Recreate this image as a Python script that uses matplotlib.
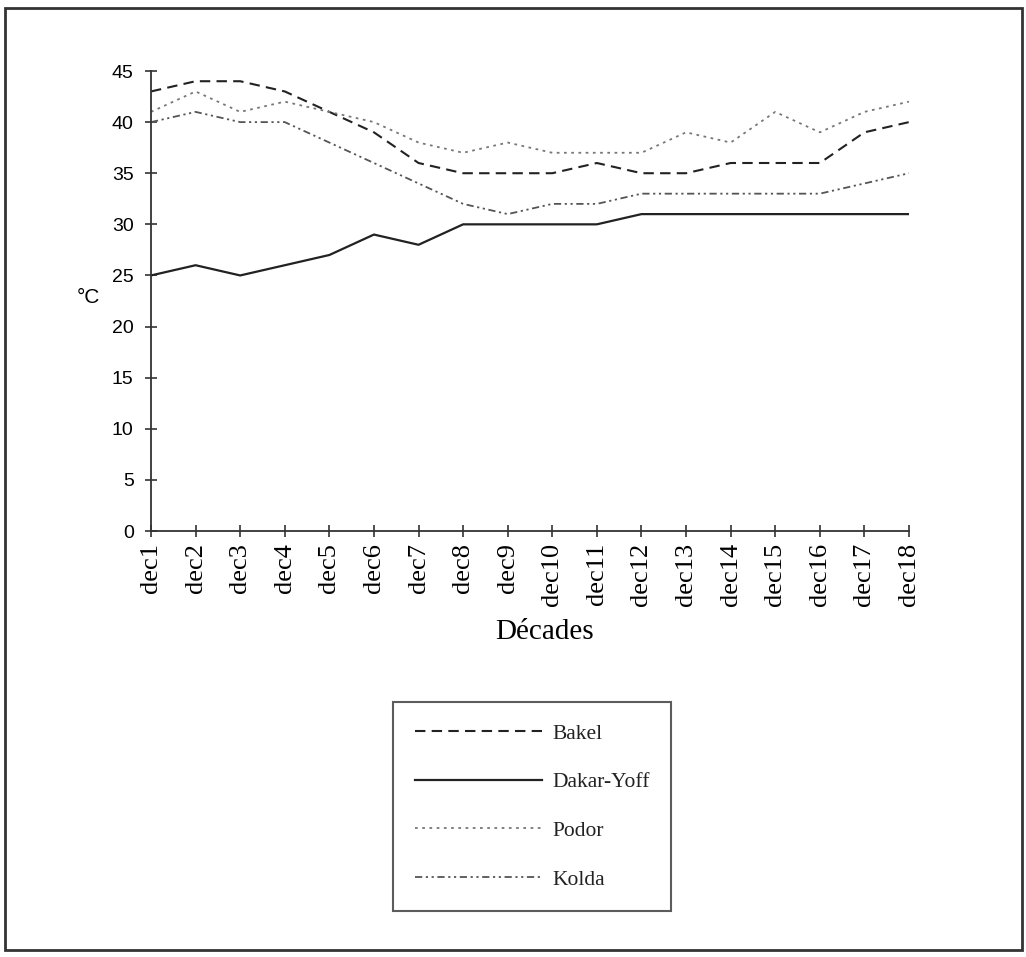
import matplotlib.pyplot as plt
from matplotlib.patches import Rectangle

decades = ['dec%d' % i for i in range(1, 19)]
bakel = [43, 44, 44, 43, 41, 39, 36, 35, 35, 35, 36, 35, 35, 36, 36, 36, 39, 40]
dakar = [25, 26, 25, 26, 27, 29, 28, 30, 30, 30, 30, 31, 31, 31, 31, 31, 31, 31]
podor = [41, 43, 41, 42, 41, 40, 38, 37, 38, 37, 37, 37, 39, 38, 41, 39, 41, 42]
kolda = [40, 41, 40, 40, 38, 36, 34, 32, 31, 32, 32, 33, 33, 33, 33, 33, 34, 35]

W, H = 1026, 957
fig = plt.figure(figsize=(W / 100, H / 100), dpi=100)
ax = fig.add_axes([151 / W, 1 - 531 / H, (909 - 151) / W, (531 - 71) / H])

x = range(len(decades))
ax.plot(x, bakel, color='#222222', lw=1.5, dashes=(5, 3), label='Bakel')
ax.plot(x, dakar, color='#222222', lw=1.6, ls='-', label='Dakar-Yoff')
ax.plot(x, podor, color='#777777', lw=1.3, dashes=(1.5, 2.5), label='Podor')
ax.plot(x, kolda, color='#555555', lw=1.3, dashes=(4, 2, 1.2, 2, 1.2, 2), label='Kolda')

ax.set_xlim(0, len(decades) - 1)
ax.set_ylim(0, 45)
ax.set_yticks(range(0, 46, 5))
ax.set_xticks(list(x))
ax.set_xticklabels(decades, rotation=90, family='Liberation Serif', fontsize=19)
for lab in ax.get_yticklabels():
    lab.set_family('Liberation Sans')
    lab.set_fontsize(14)
ax.tick_params(axis='both', direction='inout', length=9, width=1.2, color='#333333')
ax.tick_params(axis='x', pad=4)
ax.tick_params(axis='y', pad=8)
for s in ['top', 'right']:
    ax.spines[s].set_visible(False)
for s in ['left', 'bottom']:
    ax.spines[s].set_color('#333333')
    ax.spines[s].set_linewidth(1.3)

fig.text(545 / W, 1 - 632 / H, 'Décades', ha='center', va='center',
         family='Liberation Serif', fontsize=21)
fig.text(88 / W, 1 - 298 / H, '°C', ha='center', va='center',
         family='Liberation Sans', fontsize=15)

leg = fig.legend(loc='upper left', bbox_to_anchor=(393 / W, 1 - 702 / H),
                 frameon=True, fancybox=False, edgecolor='#333333',
                 prop={'family': 'Liberation Serif', 'size': 15.5},
                 handlelength=5.9, handletextpad=0.5, labelspacing=1.33,
                 borderpad=1.0, borderaxespad=0)
leg.get_frame().set_linewidth(1.5)
for t in leg.get_texts():
    t.set_color('#222222')

fig.patches.append(Rectangle((5 / W, 1 - 950 / H), (1022 - 5) / W, (950 - 8) / H,
                             transform=fig.transFigure, fill=False,
                             edgecolor='#333333', lw=2))

fig.savefig('out.png', dpi=100)
